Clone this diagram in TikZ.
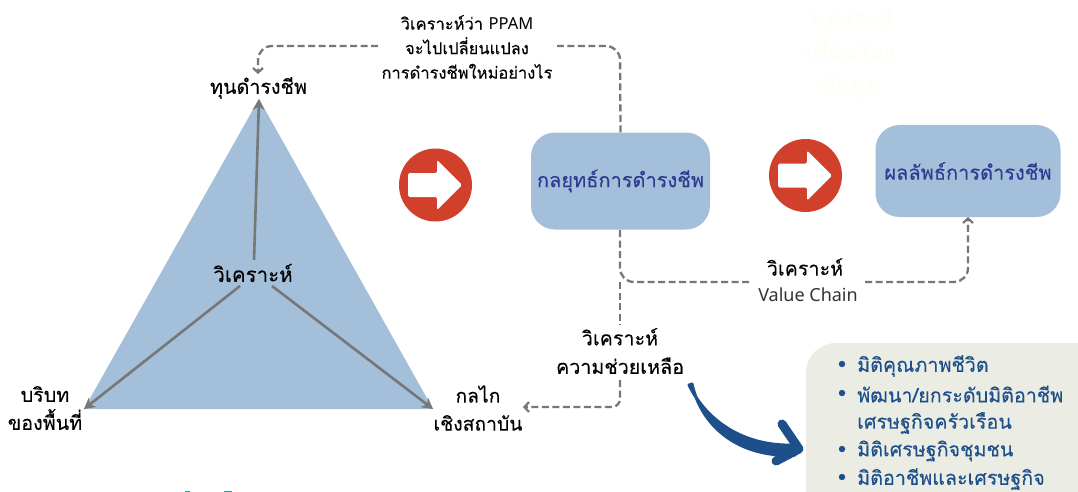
\documentclass[tikz,border=0pt]{standalone}
\usepackage{fontspec}
\setmainfont{Liberation Sans}
\newfontfamily\thaifont[Script=Thai,FakeBold=0.12]{Loma}
\newfontfamily\latfont{Noto Sans}
\usetikzlibrary{arrows.meta,calc}
\definecolor{boxblue}{HTML}{A3BFDA}
\definecolor{txtblue}{HTML}{2E3A92}
\definecolor{lineg}{HTML}{777777}
\definecolor{redc}{HTML}{D0402B}
\definecolor{panel}{HTML}{EBECE3}
\definecolor{navy}{HTML}{1D4F8A}
\definecolor{ghost}{HTML}{FFFEF6}
\definecolor{teal}{HTML}{1A9E8C}
\definecolor{vctxt}{HTML}{333333}
\tikzset{
 x=1pt,y=-1pt,
 lab/.style={font=\thaifont\fontsize{19.7}{28.5}\selectfont,align=center,text=black,inner sep=0pt},
 labs/.style={font=\thaifont\fontsize{16.5}{24.5}\selectfont,align=center,text=black,inner sep=0pt},
 rbox/.style={fill=boxblue,rounded corners=24pt,minimum width=179pt,minimum height=97pt,inner sep=0pt,text=txtblue,font=\thaifont\fontsize{20}{26}\selectfont},
 dash line/.style={draw=lineg,line width=2.3pt,dash pattern=on 7pt off 3.5pt,rounded corners=14pt,-{Straight Barb[length=4.5pt,width=10pt,line width=2.2pt]}},
 dash plain/.style={draw=lineg,line width=2.3pt,dash pattern=on 7pt off 3.5pt,rounded corners=14pt},
 solid line/.style={draw=lineg,line width=2.6pt,-{Stealth[length=11pt,width=12pt]}},
 redcirc/.style={circle,fill=redc,minimum size=73pt,inner sep=0pt},
}
\newcommand{\whitearrow}[2]{%
 \fill[white,rounded corners=1.5pt] ($(#1,#2)+(-27,-12)$) -- ++(29,0) -- ++(0,-13) -- ++(25,25) -- ++(-25,25) -- ++(0,-13) -- ++(-29,0) -- cycle;}
\begin{document}
\begin{tikzpicture}
\useasboundingbox (0,0) rectangle (1078,492);
\fill[white] (0,0) rectangle (1078,492);
% triangle
\coordinate (apex) at (259,99);
\coordinate (bl) at (84,409);
\coordinate (br) at (433,409);
\fill[boxblue] (apex) -- (br) -- (bl) -- cycle;
% boxes
\node[rbox] (strategy) at (620.5,181) {\raisebox{-2pt}{กลยุทธ์การดำรงชีพ}};
\node[rbox,minimum width=185pt,minimum height=92pt] (outcome) at (968,171) {ผลลัพธ์การดำรงชีพ};
% panel
\fill[panel,rounded corners=30pt] (806,343) rectangle (1110,525);
% ghost text
\node[font=\thaifont\bfseries\fontsize{23}{33}\selectfont,text=ghost,align=center,inner sep=0pt] (ghost) at (850,52) {วิเคราะห์\\เชื่อมโยง\\ข้อมูล};
% labels
\node[lab] (capital) at (258.5,88) {ทุนดำรงชีพ};
\node[lab,font=\thaifont\fontsize{20.5}{26}\selectfont] (analyse) at (253,273) {วิเคราะห์};
\node[lab,font=\thaifont\fontsize{19.7}{28}\selectfont] (context) at (45,408) {บริบท\\ของพื้นที่};
\node[lab,font=\thaifont\fontsize{19.3}{28}\selectfont] (mech) at (478,408) {กลไก\\เชิงสถาบัน};
\node[labs] (ppam) at (467,47) {วิเคราะห์ว่า {\latfont PPAM}\\จะไปเปลี่ยนแปลง\\การดำรงชีพใหม่อย่างไร};
\node[lab] (vc1) at (805,267) {วิเคราะห์};
\node[font=\latfont\fontsize{18}{20}\selectfont,text=vctxt,inner sep=0pt] (vc2) at (808,295) {Value Chain};
\node[lab] (aid) at (620,351) {วิเคราะห์\\ความช่วยเหลือ};
% solid lines
\coordinate (a1) at (254,260);
\coordinate (a2) at (240,286);
\coordinate (a3) at (272,286);
\draw[solid line] (a1) -- (apex);
\draw[solid line] (a2) -- (bl);
\draw[solid line] (a3) -- (br);
% dashed
\coordinate (ppr) at (557,46);
\coordinate (ppl) at (378,46);
\coordinate (tl) at (258,46);
\coordinate (tr) at (620,46);
\coordinate (tcap) at (258,74);
\coordinate (vcl) at (620,282);
\coordinate (vcm) at (751,282);
\coordinate (vcn) at (865,282);
\coordinate (vcr) at (968,282);
\coordinate (aidb) at (620,380);
\coordinate (mcorner) at (620,407);
\coordinate (mend) at (523,407);
\coordinate (aidt) at (620,325);
\coordinate (s1) at (620,230);
\coordinate (o1) at (968,217);
\draw[dash plain] (strategy.north) -- (tr) -- (ppr);
\draw[dash line] (ppl) -- (tl) -- (tcap);
\draw[dash plain] (s1) -- (vcl) -- (vcm);
\draw[dash line] (vcn) -- (vcr) -- (o1);
\draw[dash plain] (vcl) -- (aidt);
\draw[dash line,rounded corners=8pt] (aidb) -- (mcorner) -- (mend);
% red circles
\node[redcirc] (c1) at (435.5,185) {};
\whitearrow{435}{185}
\node[redcirc] (c2) at (805.5,175.5) {};
\whitearrow{805}{175.5}
% curved arrow
\fill[navy,draw=navy,line width=3pt,line join=round] (689,385) .. controls (707,422) and (745,447) .. (795,445) -- (795,455) .. controls (745,458) and (703,432) .. (692,384) -- cycle;
\draw[navy,line width=9pt,line cap=round,line join=round] (782,424) -- (799,449) -- (776,461);
% panel list
\begin{scope}[every node/.style={font=\thaifont\fontsize{19.7}{25}\selectfont,text=navy,anchor=west,inner sep=0pt}]
\node (l1) at (857,366) {มิติคุณภาพชีวิต};
\node (l2) at (857,394) {พัฒนา/ยกระดับมิติอาชีพ};
\node (l3) at (857,423) {เศรษฐกิจครัวเรือน};
\node (l4) at (857,451) {มิติเศรษฐกิจชุมชน};
\node (l5) at (857,479) {มิติอาชีพและเศรษฐกิจ};
\end{scope}
\foreach \yy in {364,393,449,477} \fill[navy] (842,\yy) circle (3.2pt);
% teal remnants
\fill[teal] (185,491) rectangle (190,492);
\fill[teal] (224,491) rectangle (232,492);
\end{tikzpicture}
\end{document}
